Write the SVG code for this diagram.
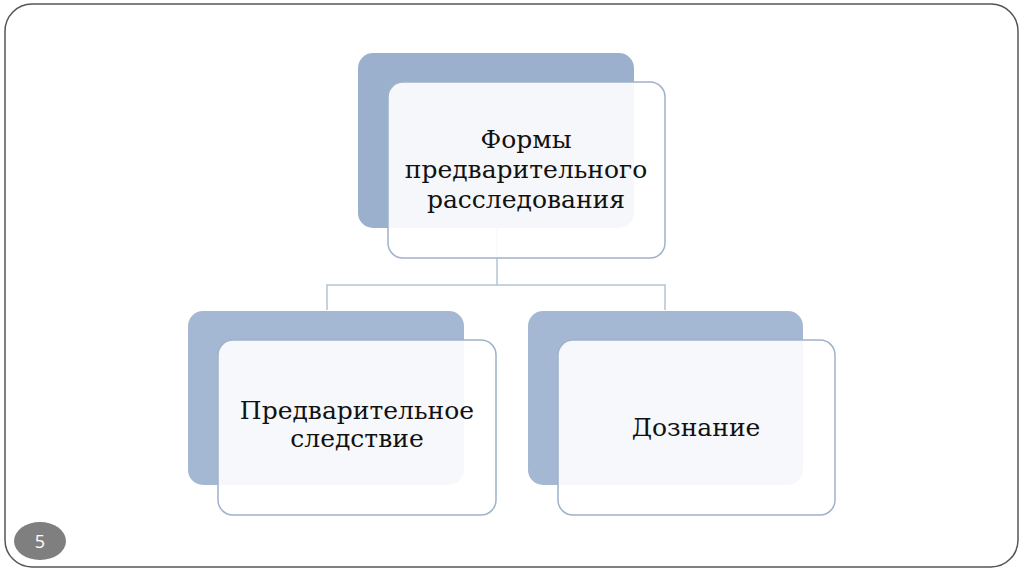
<svg xmlns="http://www.w3.org/2000/svg" width="1024" height="574" viewBox="0 0 1024 574">
<style>
.back{fill:#a5b8d3;}
.back-top{fill:#9bb0cc;}
.front{fill:#ffffff;fill-opacity:0.9;stroke:#9fb2c9;stroke-width:1.5;}
.lbl{font-family:"DejaVu Serif","Liberation Serif",serif;font-size:25px;fill:#111111;text-anchor:middle;}
.conn{stroke:#b4c3d6;stroke-width:1.5;fill:none;}
</style>
<rect width="1024" height="574" fill="#ffffff"/>
<rect x="5" y="4" width="1013" height="563" rx="27" ry="27" fill="none" stroke="#555555" stroke-width="1.5"/>
<g id="connectors">
<path class="conn" d="M497 228 V285 M327 310 V285 H665 V310"/>
</g>
<g id="node-top">
<rect class="back-top" x="358" y="53" width="276" height="175" rx="15"/>
<rect class="front" x="388" y="82" width="277" height="176" rx="15"/>
<text class="lbl" x="526" y="148">Формы</text>
<text class="lbl" x="526" y="178">предварительного</text>
<text class="lbl" x="526" y="208">расследования</text>
</g>
<g id="node-left">
<rect class="back" x="188" y="311" width="276" height="174" rx="15"/>
<rect class="front" x="218" y="340" width="278" height="175" rx="15"/>
<text class="lbl" x="357" y="419">Предварительное</text>
<text class="lbl" x="357" y="447">следствие</text>
</g>
<g id="node-right">
<rect class="back" x="528" y="311" width="275" height="174" rx="15"/>
<rect class="front" x="558" y="340" width="277" height="175" rx="15"/>
<text class="lbl" x="696" y="436">Дознание</text>
</g>
<g id="page-number">
<ellipse cx="40" cy="541" rx="26" ry="19" fill="#7f7f7f"/>
<text x="40" y="548" font-family="'Open Sans','Liberation Sans',sans-serif" font-size="18" fill="#ffffff" text-anchor="middle">5</text>
</g>
</svg>
